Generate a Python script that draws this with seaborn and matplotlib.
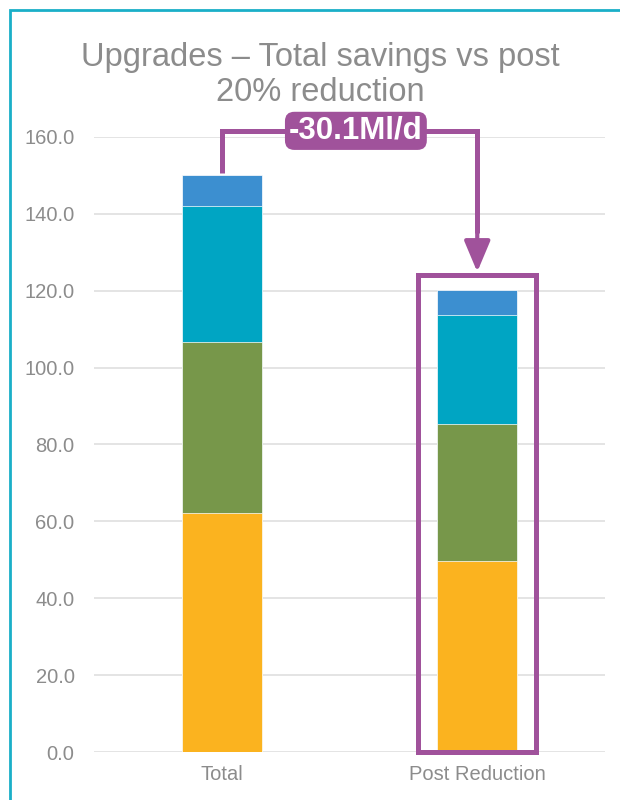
import numpy as np
import pandas as pd
import matplotlib
matplotlib.use("Agg")
import matplotlib.pyplot as plt
import seaborn as sns
from matplotlib.patches import Rectangle

# Chart data (Ml/d)
categories = ["Total", "Post Reduction"]
yellow_vals = [62.2, 49.8]
green_vals = [44.5, 35.6]
teal_vals = [35.3, 28.2]
blue_vals = [8.2, 6.5]
y_ticks = [0, 20, 40, 60, 80, 100, 120, 140, 160]
title_text = "Upgrades \u2013 Total savings vs post\n20% reduction"
saving_label = "-30.1Ml/d"

layer_colors = ["#FBB31F", "#77974A", "#00A5C3", "#3C8FD0"]
purple = "#A0529B"
grey_text = "#8C8C8C"

sns.set_style("white")
plt.rcParams["font.family"] = ["Liberation Sans", "DejaVu Sans"]

layers = np.array([yellow_vals, green_vals, teal_vals, blue_vals])
tops = np.cumsum(layers, axis=0)

fig = plt.figure(figsize=(6.2, 8.0), dpi=100)
ax = fig.add_axes([94 / 620, 48 / 800, 511 / 620, 615 / 800])

# Stacked bars: draw cumulative heights from the top layer downwards
for i in reversed(range(len(layers))):
    df = pd.DataFrame({"category": categories, "top": tops[i]})
    sns.barplot(data=df, x="category", y="top", color=layer_colors[i],
                saturation=1, width=0.315, edgecolor="white", linewidth=0.5,
                ax=ax, zorder=2)

ax.set_ylim(0, 160)
ax.set_xlim(-0.5, 1.5)
ax.set_yticks(y_ticks)
ax.set_yticklabels([f"{v:.1f}" for v in y_ticks])
ax.set_xlabel("")
ax.set_ylabel("")
ax.yaxis.grid(True, color="#E2E2E2", linewidth=1.3)
ax.set_axisbelow(True)
for s in ax.spines.values():
    s.set_visible(False)
ax.tick_params(axis="y", length=0, pad=14, labelsize=14.5, labelcolor=grey_text)
ax.tick_params(axis="x", length=0, pad=9, labelsize=14.5, labelcolor=grey_text)

# Bracket from the total bar to the reduced bar
total_top = tops[-1][0]
bracket_y = 161.6
ax.plot([0, 0, 1, 1], [total_top + 0.4, bracket_y, bracket_y, 135],
        color=purple, lw=3.6, solid_joinstyle="miter", solid_capstyle="butt",
        clip_on=False, zorder=5)
ax.annotate("", xy=(1, 124.9), xytext=(1, 136),
            arrowprops=dict(arrowstyle="-|>,head_length=0.95,head_width=0.4",
                            mutation_scale=20, color=purple, lw=3.0,
                            shrinkA=0, shrinkB=0),
            annotation_clip=False, zorder=5)

# Frame around the reduced bar
ax.add_patch(Rectangle((1 - 0.231, 0), 0.462, 124.1, fill=False,
                       edgecolor=purple, lw=3.6, clip_on=False, zorder=4,
                       joinstyle="miter"))

# Saving label
ax.text(0.525, bracket_y, saving_label, ha="center", va="center",
        color="white", fontsize=22.5, fontweight="bold", zorder=6,
        bbox=dict(boxstyle="round,pad=0.13,rounding_size=0.3",
                  fc=purple, ec="none"))

fig.text(320 / 620, 1 - 42 / 800, title_text, ha="center", va="top",
         fontsize=23.5, color=grey_text, linespacing=1.15)

# Outer frame
fig.add_artist(Rectangle((10 / 620, -0.05), 1.0, 790 / 800 + 0.05,
                         transform=fig.transFigure, fill=False,
                         edgecolor="#1AAFC8", lw=2))

fig.savefig("out.png", dpi=100)
